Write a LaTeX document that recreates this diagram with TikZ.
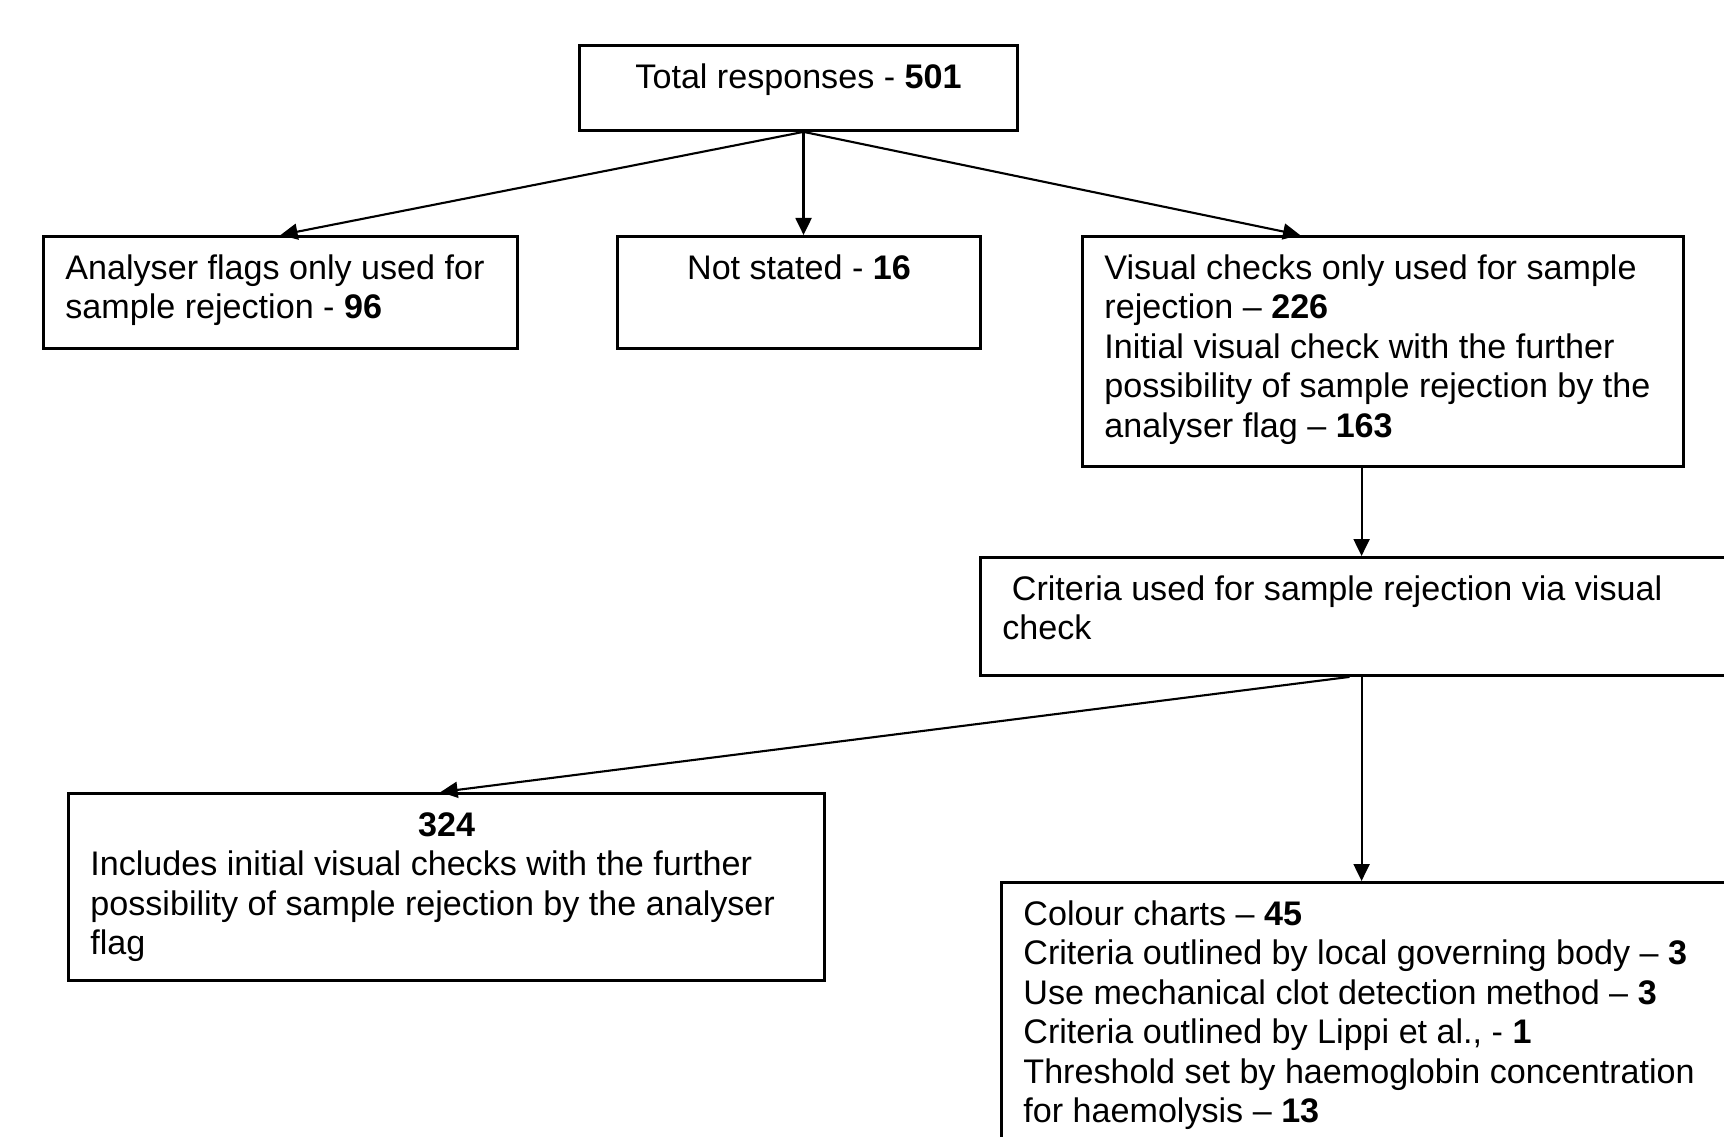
\documentclass[tikz,border=0pt]{standalone}
\usepackage{fontspec}
\setmainfont{Liberation Sans}
\usetikzlibrary{arrows.meta,calc}
\newcommand{\boxtext}[4][\raggedright]{\parbox[c][#3][t]{#2}{#1\strut#4}}

\begin{document}
\begin{tikzpicture}[x=.01cm,y=-.01cm,font=\fontsize{9.7}{11.25}\selectfont,
    box/.style={draw,line width=.8pt,anchor=north west,inner xsep=.22cm,inner ysep=.15cm},
    arr/.style={-{Triangle[length=.17cm,width=.16cm]},line width=.6pt}]
  \useasboundingbox (0,0) rectangle (1724,1136);
  \clip (0,0) rectangle (1724,1136);
  % boxes
  \node[box] (total) at (578,44) {\boxtext[\centering]{3.94cm}{.55cm}{Total responses - \textbf{501}}};
  \node[box] (anal) at (42,235) {\boxtext{4.30cm}{.82cm}{Analyser flags only used for\\sample rejection - \textbf{96}}};
  \node[box] (notst) at (616,235) {\boxtext[\centering]{3.19cm}{.82cm}{Not stated - \textbf{16}}};
  \node[box] (visual) at (1081,235) {\boxtext{5.57cm}{2.00cm}{Visual checks only used for sample\\rejection – \textbf{226}\\Initial visual check with the further\\possibility of sample rejection by the\\analyser flag – \textbf{163}}};
  \node[box] (crit) at (979,556) {\boxtext{7.56cm}{.88cm}{~Criteria used for sample rejection via visual\\check}};
  \node[box] (incl) at (67,792) {\boxtext{7.12cm}{1.57cm}{{\centering\textbf{324}\par}Includes initial visual checks with the further\\possibility of sample rejection by the analyser\\flag}};
  \node[box] (colour) at (1000,881) {\boxtext{7.56cm}{2.70cm}{Colour charts – \textbf{45}\\Criteria outlined by local governing body – \textbf{3}\\Use mechanical clot detection method – \textbf{3}\\Criteria outlined by Lippi et al., - \textbf{1}\\Threshold set by haemoglobin concentration\\for haemolysis – \textbf{13}}};
  % connectors
  \coordinate (split) at ([xshift=.05cm]total.south);
  \draw[arr] (split) -- (anal.north);
  \draw[arr] (split) -- (split |- notst.north);
  \draw[arr] (split) -- ([xshift=-.83cm]visual.north);
  \coordinate (down) at ([xshift=-.215cm]visual.south);
  \draw[arr] (down) -- (down |- crit.north);
  \draw[arr] (down |- crit.south) -- (down |- colour.north);
  \draw[arr] ($(down |- crit.south)+(-12,0)$) -- ([xshift=-.06cm]incl.north);
\end{tikzpicture}
\end{document}
